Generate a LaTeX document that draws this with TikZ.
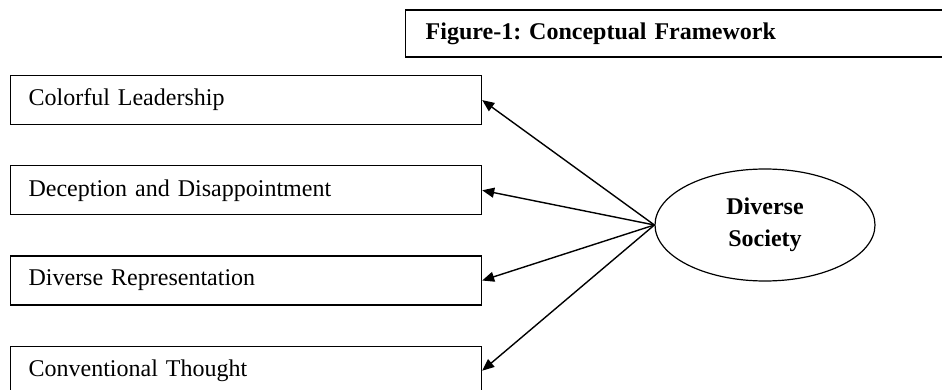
\documentclass[tikz,border=0pt]{standalone}
\usepackage{fontspec}
\setmainfont[WordSpace=0.8]{Liberation Serif}
\usetikzlibrary{arrows.meta,positioning,shapes.geometric}
\frenchspacing

\begin{document}
\begin{tikzpicture}[x=0.5pt, y=-0.5pt, node distance=20pt, every node/.style={font=\fontsize{12}{16}\selectfont}, box/.style={draw,line width=0.6pt,minimum height=24.5pt,text width=217.5pt,inner xsep=9pt,inner ysep=0pt,align=left}, arr/.style={-{Triangle[length=6pt,width=5pt]},line width=0.7pt}]
\useasboundingbox (0,0) rectangle (942,390);
\clip (0,0) rectangle (942,390);
\node[box,line width=0.7pt,font=\fontsize{12}{16}\selectfont\bfseries,text width=262pt,inner xsep=10pt,minimum height=23.5pt,anchor=west] (title) at (405,33.5) {Figure-1: Conceptual Framework};
\node[box,anchor=north west] (lead) at (10,75) {Colorful Leadership};
\node[box,below=of lead] (decep) {Deception and Disappointment};
\node[box,below=of decep] (repr) {Diverse Representation};
\node[box,below=of repr] (conv) {Conventional Thought};
\node[ellipse,draw,line width=0.6pt,minimum width=110pt,minimum height=56pt,inner sep=0pt,align=center,font=\fontsize{12}{16}\selectfont\bfseries] (soc) at (765,225) {Diverse\\Society};
\draw[arr] (soc.west) -- (lead.east);
\draw[arr] (soc.west) -- (decep.east);
\draw[arr] (soc.west) -- (repr.east);
\draw[arr] (soc.west) -- (conv.east);
\end{tikzpicture}
\end{document}
